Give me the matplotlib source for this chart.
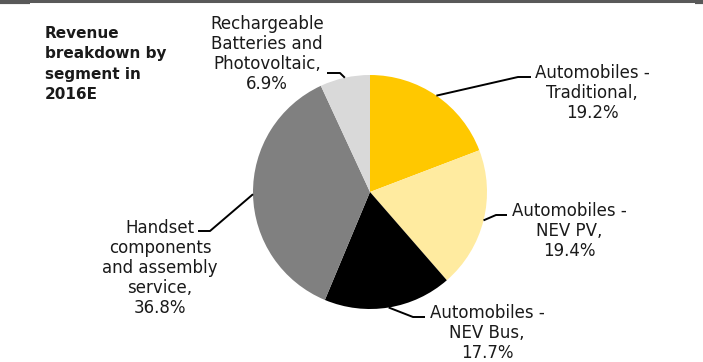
import numpy as np
import matplotlib
matplotlib.use("Agg")
import matplotlib.pyplot as plt

# data
segments = ["Automobiles -\nTraditional,", "Automobiles -\nNEV PV,", "Automobiles -\nNEV Bus,",
            "Handset\ncomponents\nand assembly\nservice,", "Rechargeable\nBatteries and\nPhotovoltaic,"]
shares = [19.2, 19.4, 17.7, 36.8, 6.9]
colors = ["#FFC800", "#FFEBA0", "#000000", "#808080", "#D9D9D9"]
title = "Revenue\nbreakdown by\nsegment in\n2016E"

# layout in pixels (y down)
cx, cy, r = 370, 192, 117
label_pos = [(592, 93), (569, 231), (487, 333), (160, 268), (267, 54)]
elbows = [(518, 77), (496, 215), (413, 317), (210, 231), (340, 73)]
ends = [(531, 77), (507, 215), (425, 317), (198, 231), (327, 73)]

plt.rcParams['font.family'] = ['DejaVu Sans']
fig = plt.figure(figsize=(7.03, 3.62), dpi=100)
ax = fig.add_axes([0, 0, 1, 1])

wedges, _ = ax.pie(shares, colors=colors, center=(cx, cy), radius=r,
                   startangle=-90, counterclock=True,
                   wedgeprops=dict(linewidth=0))
ax.set_xlim(0, 703)
ax.set_ylim(362, 0)
ax.set_aspect('equal')
ax.axis('off')

for w, lab, v, pos, el, en in zip(wedges, segments, shares, label_pos, elbows, ends):
    mid = np.deg2rad((w.theta1 + w.theta2) / 2)
    px = cx + r * np.cos(mid)
    py = cy + r * np.sin(mid)
    ax.plot([px, el[0], en[0]], [py, el[1], en[1]], color="black", lw=1.4,
            solid_capstyle="butt")
    ax.text(pos[0], pos[1], lab + "\n" + f"{v:.1f}%", ha="center", va="center",
            multialignment="center", fontsize=12, linespacing=1.13, color="#1a1a1a")

ax.text(45, 64, title, ha="left", va="center", fontsize=11, fontweight="bold",
        linespacing=1.45, color="#1a1a1a")

# top rule
ax.plot([0, 703], [1, 1], color="#595959", lw=2.2, solid_capstyle="butt")
ax.plot([0, 30], [1.5, 1.5], color="#595959", lw=3, solid_capstyle="butt")
ax.plot([695, 703], [1.5, 1.5], color="#595959", lw=3, solid_capstyle="butt")

fig.savefig("out.png", dpi=100)
